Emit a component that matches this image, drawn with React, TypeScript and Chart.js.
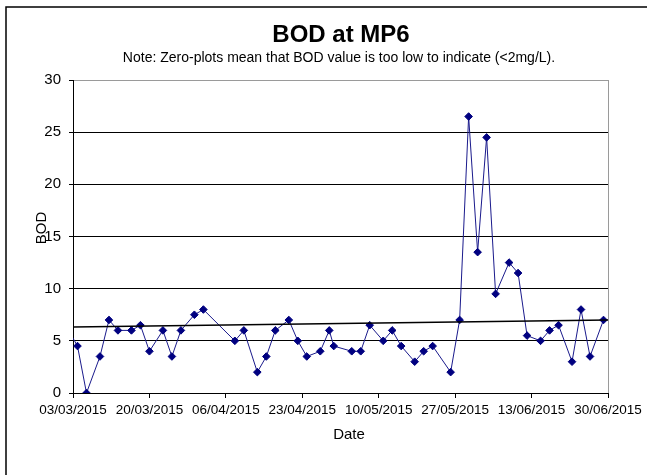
import React, { useEffect, useRef } from 'react';
import { Chart, registerables } from 'chart.js';

Chart.register(...registerables);

// ---- Data ----
const sampleDates = [
  '02/03/2015', '04/03/2015', '06/03/2015', '09/03/2015', '11/03/2015', '13/03/2015', '16/03/2015',
  '18/03/2015', '20/03/2015', '23/03/2015', '25/03/2015', '27/03/2015', '30/03/2015', '01/04/2015',
  '08/04/2015', '10/04/2015', '13/04/2015', '15/04/2015', '17/04/2015', '20/04/2015', '22/04/2015',
  '24/04/2015', '27/04/2015', '29/04/2015', '30/04/2015', '04/05/2015', '06/05/2015', '08/05/2015',
  '11/05/2015', '13/05/2015', '15/05/2015', '18/05/2015', '20/05/2015', '22/05/2015', '26/05/2015',
  '28/05/2015', '30/05/2015', '01/06/2015', '03/06/2015', '05/06/2015', '08/06/2015', '10/06/2015',
  '12/06/2015', '15/06/2015', '17/06/2015', '19/06/2015', '22/06/2015', '24/06/2015', '26/06/2015',
  '29/06/2015',
];
const bodValues = [
  6, 4.5, 0, 3.5, 7, 6, 6,
  6.5, 4, 6, 3.5, 6, 7.5, 8,
  5, 6, 2, 3.5, 6, 7, 5,
  3.5, 4, 6, 4.5, 4, 4, 6.5,
  5, 6, 4.5, 3, 4, 4.5, 2,
  7, 26.5, 13.5, 24.5, 9.5, 12.5, 11.5,
  5.5, 5, 6, 6.5, 3, 8, 3.5,
  7,
];
const trendDates = ['03/03/2015', '30/06/2015'];
const trendValues = [6.33, 7.0];
const xTickLabels = [
  '03/03/2015', '20/03/2015', '06/04/2015', '23/04/2015',
  '10/05/2015', '27/05/2015', '13/06/2015', '30/06/2015',
];
const yTickValues = [0, 5, 10, 15, 20, 25, 30];

const titleText = 'BOD at MP6';
const subtitleText = 'Note: Zero-plots mean that BOD value is too low to indicate (<2mg/L).';
const xAxisTitle = 'Date';
const yAxisTitle = 'BOD';

// ---- helpers ----
const ORIGIN = Date.UTC(2015, 2, 3);
function dayOf(s: string): number {
  const [d, m, y] = s.split('/').map(Number);
  return (Date.UTC(y, m - 1, d) - ORIGIN) / 86400000;
}

const FONT = '"Liberation Sans", Arial, sans-serif';

const decorPlugin = {
  id: 'decor',
  beforeDraw(chart: any) {
    const ctx = chart.ctx as CanvasRenderingContext2D;
    ctx.save();
    ctx.fillStyle = '#ffffff';
    ctx.fillRect(0, 0, chart.width, chart.height);
    ctx.strokeStyle = '#000000';
    ctx.lineWidth = 1.5;
    ctx.strokeRect(6, 7, chart.width + 100, chart.height + 100);
    ctx.restore();
  },
  afterDraw(chart: any) {
    const ctx = chart.ctx as CanvasRenderingContext2D;
    ctx.save();
    ctx.fillStyle = '#000000';
    ctx.textAlign = 'center';
    ctx.textBaseline = 'middle';
    ctx.font = `bold 24px ${FONT}`;
    ctx.fillText(titleText, 341, 35);
    ctx.font = `14px ${FONT}`;
    ctx.fillText(subtitleText, 339, 58);
    ctx.font = `15px ${FONT}`;
    ctx.fillText(xAxisTitle, 349, 435);
    ctx.translate(42, 228);
    ctx.rotate(-Math.PI / 2);
    ctx.fillText(yAxisTitle, 0, 0);
    ctx.restore();
  },
};

export default function App() {
  const canvasRef = useRef<HTMLCanvasElement | null>(null);

  useEffect(() => {
    if (!canvasRef.current) return;
    const bodPoints = sampleDates.map((d, i) => ({ x: dayOf(d), y: bodValues[i] }));
    const trendPoints = trendDates.map((d, i) => ({ x: dayOf(d), y: trendValues[i] }));
    const xMin = dayOf(xTickLabels[0]);
    const xMax = dayOf(xTickLabels[xTickLabels.length - 1]);

    const chart = new Chart(canvasRef.current, {
      type: 'scatter',
      data: {
        datasets: [
          {
            label: 'Trend',
            data: trendPoints,
            showLine: true,
            borderColor: '#000000',
            borderWidth: 1.6,
            pointRadius: 0,
          },
          {
            label: 'BOD',
            data: bodPoints,
            showLine: true,
            borderColor: '#1a1a8c',
            borderWidth: 1,
            pointStyle: 'rectRot',
            pointRadius: 3.8,
            pointBackgroundColor: '#000080',
            pointBorderColor: '#000080',
            pointBorderWidth: 1,
          },
        ],
      },
      options: {
        animation: false,
        responsive: false,
        layout: { padding: { left: 0, top: 80, right: 39, bottom: 0 } },
        plugins: {
          legend: { display: false },
          tooltip: { enabled: false },
          title: { display: false },
        },
        scales: {
          x: {
            type: 'linear',
            min: xMin,
            max: xMax,
            afterBuildTicks: (scale: any) => {
              scale.ticks = xTickLabels.map((l) => ({ value: dayOf(l) }));
            },
            afterFit: (scale: any) => {
              scale.height = 82;
            },
            ticks: {
              autoSkip: false,
              maxRotation: 0,
              minRotation: 0,
              padding: 4,
              color: '#000000',
              font: { family: FONT, size: 13.5 },
              callback: (_v: any, i: number) => xTickLabels[i],
            },
            grid: {
              drawOnChartArea: true,
              drawTicks: true,
              tickLength: 5,
              tickColor: '#000000',
              color: (c: any) => (c.index === xTickLabels.length - 1 ? '#9a9a9a' : 'rgba(0,0,0,0)'),
              lineWidth: 1,
            },
            border: { display: true, color: '#000000', width: 1 },
          },
          y: {
            type: 'linear',
            min: yTickValues[0],
            max: yTickValues[yTickValues.length - 1],
            afterBuildTicks: (scale: any) => {
              scale.ticks = yTickValues.map((v) => ({ value: v }));
            },
            afterFit: (scale: any) => {
              scale.width = 73;
            },
            ticks: {
              padding: 8,
              color: '#000000',
              font: { family: FONT, size: 15 },
              callback: (v: any) => String(v),
            },
            grid: {
              drawTicks: true,
              tickLength: 4,
              tickColor: '#000000',
              color: (c: any) =>
                c.tick && c.tick.value === yTickValues[yTickValues.length - 1] ? '#9a9a9a' : '#000000',
              lineWidth: 1,
            },
            border: { display: true, color: '#000000', width: 1 },
          },
        },
      },
      plugins: [decorPlugin],
    } as any);

    return () => chart.destroy();
  }, []);

  return (
    <div style={{ position: 'fixed', left: 0, top: 0, width: 647, height: 475 }}>
      <canvas ref={canvasRef} width={647} height={475} style={{ width: 647, height: 475, display: 'block' }} />
    </div>
  );
}
